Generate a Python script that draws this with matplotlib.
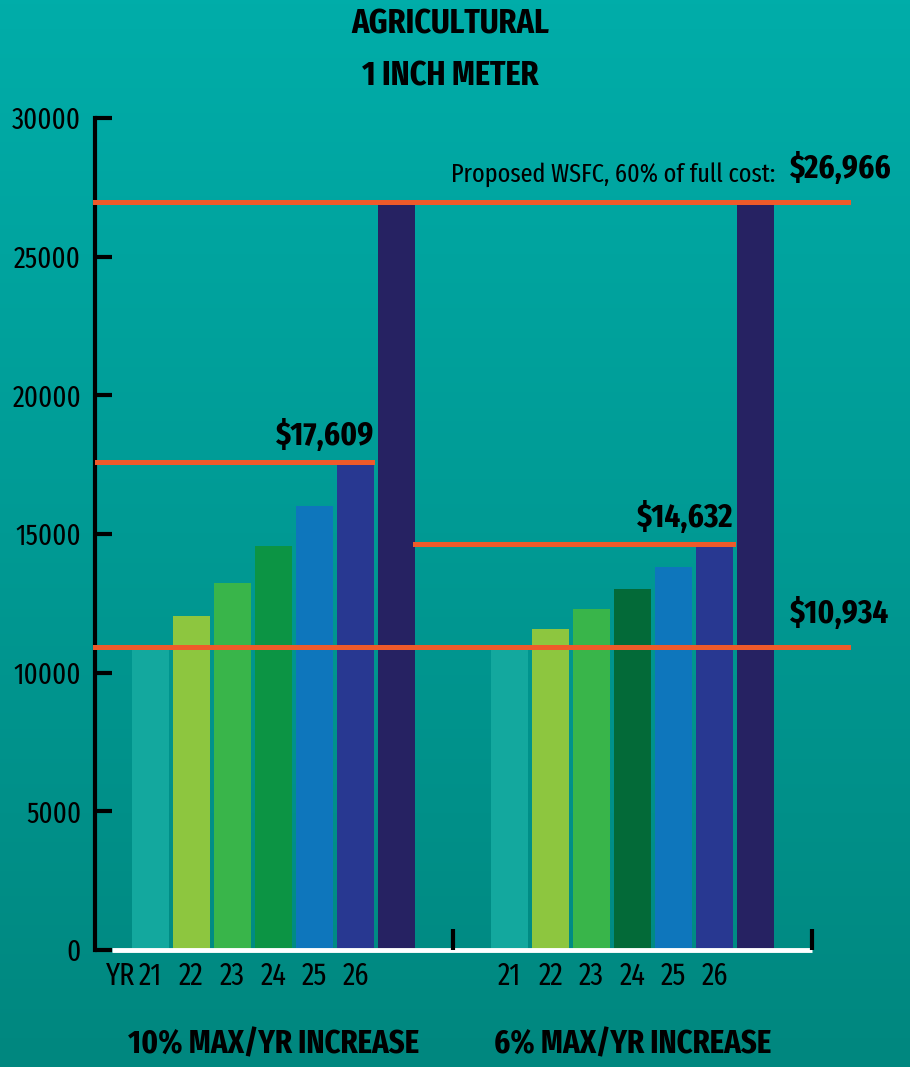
import matplotlib
matplotlib.use("Agg")
import matplotlib.pyplot as plt
import numpy as np
from matplotlib.colors import LinearSegmentedColormap

# —— data ——
years = ["21", "22", "23", "24", "25", "26"]
cap_10pct = [10934, 12027, 13230, 14553, 16008, 17609]
cap_6pct = [10934, 11590, 12286, 13023, 13804, 14632]
full_cost = 26966
current_fee = 10934
yticks = [0, 5000, 10000, 15000, 20000, 25000, 30000]
group_labels = ["10% MAX/YR INCREASE", "6% MAX/YR INCREASE"]

colors_10 = ["#13A89E", "#8DC63F", "#39B54A", "#0C9444", "#0E76BC", "#283891"]
colors_6 = ["#13A89E", "#8DC63F", "#39B54A", "#036A38", "#0E76BC", "#283891"]
full_color = "#262262"
red = "#EE5A2A"

plt.rcParams["font.family"] = ["Fira Sans Extra Condensed", "Liberation Sans Narrow", "DejaVu Sans"]

W, H = 910, 1067
fig = plt.figure(figsize=(W / 100, H / 100), dpi=100)

# background gradient
bg = fig.add_axes([0, 0, 1, 1])
cmap = LinearSegmentedColormap.from_list("teal", ["#00ADA9", "#00877F"])
bg.imshow(np.linspace(0, 1, 256).reshape(-1, 1), aspect="auto", cmap=cmap,
          extent=[0, 1, 0, 1])
bg.set_axis_off()

# main axes, placed in pixels
left, right, top, bottom = 95, 848, 118, 950
ax = fig.add_axes([left / W, (H - bottom) / H, (right - left) / W, (bottom - top) / H])
ax.set_facecolor("none")

slot = 41.0            # px per bar slot
x0 = 150.5             # px centre of first bar
gap = 8.76             # slots between group starts
ax.set_xlim((left - x0) / slot, (right - x0) / slot)
ax.set_ylim(0, 30000)

n = len(years)
g1 = np.arange(n + 1)
g2 = g1 + gap
bw = 0.9

ax.bar(g1[:n], cap_10pct, width=bw, color=colors_10, zorder=2)
ax.bar(g1[n], full_cost, width=bw, color=full_color, zorder=2)
ax.bar(g2[:n], cap_6pct, width=bw, color=colors_6, zorder=2)
ax.bar(g2[n], full_cost, width=bw, color=full_color, zorder=2)

xl, xr = ax.get_xlim()
lw_red = 3.6
ax.plot([xl, xr], [full_cost] * 2, color=red, lw=lw_red, zorder=4, clip_on=False)
ax.plot([xl, xr], [current_fee] * 2, color=red, lw=lw_red, zorder=4, clip_on=False)
ax.plot([xl, g1[n - 1] + bw / 2 - 0.05], [cap_10pct[-1]] * 2, color=red, lw=lw_red, zorder=4)
ax.plot([g1[n] + bw / 2, g2[n - 1] + bw / 2], [cap_6pct[-1]] * 2, color=red, lw=lw_red, zorder=4)

# baseline and separators
base_l = (112 - x0) / slot
base_r = (812 - x0) / slot
sep = (453 - x0) / slot
ax.plot([base_l, base_r], [0, 0], color="white", lw=3.5, zorder=3, clip_on=False,
        solid_capstyle="butt")
for xs in [sep, base_r]:
    ax.plot([xs, xs], [0, 750], color="black", lw=3, zorder=3, clip_on=False,
            solid_capstyle="butt")

# spines / ticks
for s in ["top", "right", "bottom"]:
    ax.spines[s].set_visible(False)
ax.spines["left"].set_linewidth(3)
ax.spines["left"].set_color("black")
ax.set_yticks(yticks)
ax.set_yticklabels([str(v) for v in yticks])
ax.tick_params(axis="y", direction="in", length=12, width=3, color="black",
               labelsize=21, pad=10)
ax.set_xticks(list(g1[:n]) + list(g2[:n]))
ax.set_xticklabels(years + years)
ax.tick_params(axis="x", length=0, labelsize=22, pad=8)

ax.annotate("YR", xy=(g1[0], 0), xycoords="data", xytext=(-11, -8),
            textcoords="offset points", ha="right", va="top", fontsize=22)

# value labels
bold = dict(fontsize=24, fontweight="bold", color="black")
ax.annotate("$17,609", xy=(g1[n - 1] + bw / 2, cap_10pct[-1]), xytext=(0, 7),
            textcoords="offset points", ha="right", va="bottom", **bold)
ax.annotate("$14,632", xy=(g2[n - 1] + bw / 2, cap_6pct[-1]), xytext=(0, 7),
            textcoords="offset points", ha="right", va="bottom", **bold)
lx = (790 - x0) / slot
ax.annotate("$10,934", xy=(lx, current_fee), xytext=(0, 12),
            textcoords="offset points", ha="left", va="bottom", annotation_clip=False, **bold)
ax.annotate("$26,966", xy=(lx, full_cost), xytext=(0, 12),
            textcoords="offset points", ha="left", va="bottom", annotation_clip=False, **bold)
ax.annotate("Proposed WSFC, 60% of full cost:", xy=((775 - x0) / slot, full_cost),
            xytext=(0, 11), textcoords="offset points", ha="right", va="bottom",
            fontsize=19, annotation_clip=False)

# group labels
for gx, lab in zip([g1.mean(), g2.mean()], group_labels):
    ax.annotate(lab, xy=(gx, 0), xytext=(0, -57), textcoords="offset points",
                ha="center", va="top", fontsize=24, fontweight="bold", annotation_clip=False)

# title
fig.text(450 / W, 1 - 24 / H, "AGRICULTURAL", ha="center", va="center",
         fontsize=25, fontweight="bold")
fig.text(450 / W, 1 - 76 / H, "1 INCH METER", ha="center", va="center",
         fontsize=25, fontweight="bold")

fig.savefig("out.png", dpi=100)
